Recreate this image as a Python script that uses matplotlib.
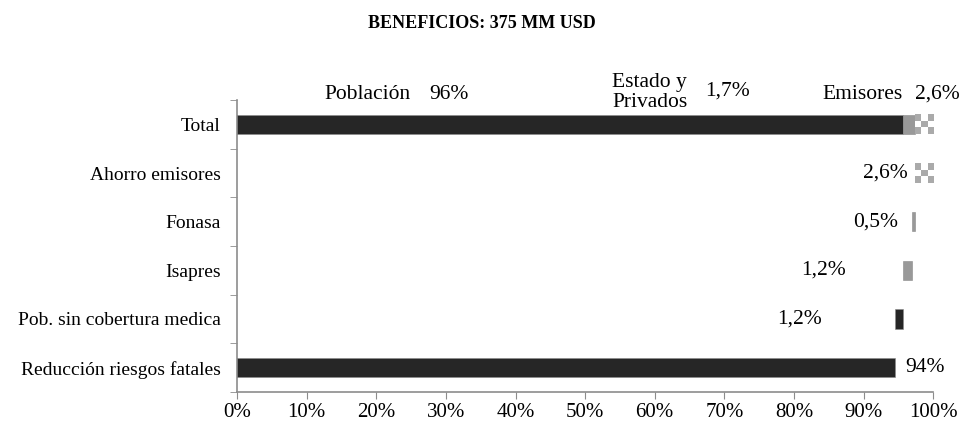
import numpy as np
import matplotlib
matplotlib.use("Agg")
import matplotlib.pyplot as plt
from matplotlib.ticker import FixedLocator, PercentFormatter

plt.rcParams['font.family'] = ['Liberation Serif', 'DejaVu Serif']

# ---- data ----
categories = ["Total", "Ahorro emisores", "Fonasa", "Isapres",
              "Pob. sin cobertura medica", "Reducción riesgos fatales"]
# waterfall components (bottom to top of the chart)
comp_names = ["Reducción riesgos fatales", "Pob. sin cobertura medica",
              "Isapres", "Fonasa", "Ahorro emisores"]
comp_values = [94.5, 1.2, 1.2, 0.5, 2.6]
comp_labels = ["94%", "1,2%", "1,2%", "0,5%", "2,6%"]
comp_styles = ["dark", "dark", "gray", "gray", "check"]

total_names = ["Población", "Estado y\nPrivados", "Emisores"]
total_values = [95.7, 1.7, 2.6]
total_labels = ["96%", "1,7%", "2,6%"]
total_styles = ["dark", "gray", "check"]

title = "BENEFICIOS: 375 MM USD"
xticks = [0, 10, 20, 30, 40, 50, 60, 70, 80, 90, 100]

# ---- styling ----
DARK = "#262626"
GRAY = "#999999"
LIGHT = "#aaaaaa"
SPINE = "#8c8c8c"
H = 0.4
FS_ANN = 15.5

fig = plt.figure(figsize=(9.64, 4.26), dpi=100)
ax = fig.add_axes([0.246, 0.080, 0.722, 0.685])

ypos = {c: i for i, c in enumerate(categories)}
checker = np.array([[1, 0, 1], [0, 1, 0], [1, 0, 1]])


def draw_segment(y, left, width, style):
    if style == "check":
        ax.barh(y, width, left=left, height=H, color="white", linewidth=0)
        ax.imshow(checker, extent=(left, left + width, y + H / 2, y - H / 2),
                  cmap=matplotlib.colors.ListedColormap(["white", LIGHT]),
                  aspect="auto", interpolation="nearest", zorder=3)
    else:
        ax.barh(y, width, left=left, height=H,
                color=DARK if style == "dark" else GRAY,
                edgecolor="#8a8a8a", linewidth=0.4, zorder=3)


# component bars (waterfall)
lefts = np.concatenate([[0], np.cumsum(comp_values)[:-1]])
for name, v, l, s in zip(comp_names, comp_values, lefts, comp_styles):
    draw_segment(ypos[name], l, v, s)

# total bar
tlefts = np.concatenate([[0], np.cumsum(total_values)[:-1]])
for v, l, s in zip(total_values, tlefts, total_styles):
    draw_segment(ypos["Total"], l, v, s)

# component value labels
comp_label_x = [96.0, 84.0, 87.5, 95.0, 96.4]
comp_label_ha = ["left", "right", "right", "right", "right"]
for name, lab, lx, ha in zip(comp_names, comp_labels, comp_label_x, comp_label_ha):
    ax.text(lx, ypos[name], lab, ha=ha, va="center", fontsize=FS_ANN)

# total labels above the Total bar
yt = ypos["Total"] - 0.62
ax.text(18.8, yt, total_names[0], ha="center", va="center", fontsize=FS_ANN)
ax.text(30.5, yt, total_labels[0], ha="center", va="center", fontsize=FS_ANN)
ax.text(53.9, yt - 0.04, total_names[1], ha="left", va="center", fontsize=FS_ANN,
        linespacing=1.1)
ax.text(70.4, yt - 0.06, total_labels[1], ha="center", va="center", fontsize=FS_ANN)
ax.text(89.8, yt, total_names[2], ha="center", va="center", fontsize=FS_ANN)
ax.text(100.6, yt, total_labels[2], ha="center", va="center", fontsize=FS_ANN)

# axes
ax.set_xlim(0, 100)
ax.set_ylim(len(categories) - 0.5, -0.5)
ax.set_yticks(range(len(categories)))
ax.set_yticklabels(categories, fontsize=14)
ax.yaxis.set_minor_locator(FixedLocator(np.arange(-0.5, len(categories), 1.0)))
ax.tick_params(axis="y", which="major", length=0, pad=12)
ax.tick_params(axis="y", which="minor", length=5, color=SPINE, direction="out")
ax.set_xticks(xticks)
ax.xaxis.set_major_formatter(PercentFormatter(decimals=0))
ax.tick_params(axis="x", which="major", length=5, color=SPINE, labelsize=15, pad=3)

for s in ["top", "right"]:
    ax.spines[s].set_visible(False)
for s in ["left", "bottom"]:
    ax.spines[s].set_color(SPINE)
    ax.spines[s].set_linewidth(1.2)

fig.text(0.5, 0.945, title, ha="center", va="center", fontsize=13, fontweight="bold")

fig.savefig("out.png", dpi=100)
